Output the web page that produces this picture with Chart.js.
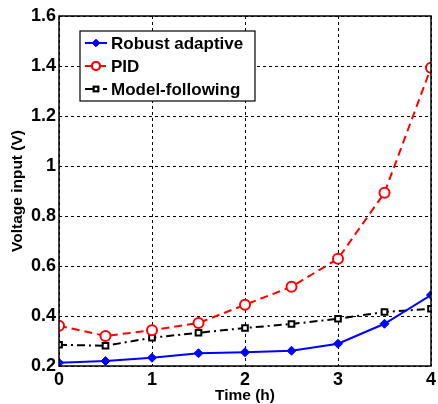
<!DOCTYPE html>
<html>
<head>
<meta charset="utf-8">
<script src="https://cdn.jsdelivr.net/npm/chart.js@4.4.0/dist/chart.umd.min.js"></script>
<style>
  html, body { margin: 0; padding: 0; background: #fff; }
  #wrap { width: 438px; height: 404px; position: relative; }
</style>
</head>
<body>
<div id="wrap"><canvas id="c" width="438" height="404"></canvas></div>
<script>
const timeH = [0, 0.5, 1, 1.5, 2, 2.5, 3, 3.5, 4];
const robust = [0.213, 0.220, 0.233, 0.251, 0.255, 0.261, 0.289, 0.369, 0.484];
const pid = [0.361, 0.320, 0.343, 0.372, 0.445, 0.517, 0.629, 0.893, 1.393];
const modelFollow = [0.285, 0.281, 0.313, 0.333, 0.352, 0.368, 0.389, 0.416, 0.429];
const seriesNames = ["Robust adaptive", "PID", "Model-following"];

const FONT = "Arial, 'Liberation Sans', sans-serif";

function pts(arr) { return arr.map((v, i) => ({ x: timeH[i], y: v })); }

const datasets = [
  { label: seriesNames[0], data: pts(robust), borderColor: "#0000ff", backgroundColor: "#0000ff",
    borderWidth: 2, pointStyle: "rectRot", pointRadius: 4.5, pointBorderWidth: 1, borderDash: [] },
  { label: seriesNames[1], data: pts(pid), borderColor: "#ff0000", backgroundColor: "#ffffff",
    borderWidth: 2, pointStyle: "circle", pointRadius: 5, pointBorderWidth: 2, borderDash: [8, 5] },
  { label: seriesNames[2], data: pts(modelFollow), borderColor: "#000000", backgroundColor: "#ffffff",
    borderWidth: 2, pointStyle: "rect", pointRadius: 4, pointBorderWidth: 2, borderDash: [8, 4, 2, 4] },
];

// dashed grid, box around the plot and a legend inside the axes, MATLAB style
const frameAndLegend = {
  id: "frameAndLegend",
  beforeDatasetsDraw(chart) {
    const { ctx, chartArea: a, scales } = chart;
    ctx.save();
    ctx.strokeStyle = "#000";
    ctx.lineWidth = 1;
    ctx.setLineDash([3, 3]);
    ctx.beginPath();
    scales.x.ticks.forEach(t => {
      const px = Math.round(scales.x.getPixelForValue(t.value)) + 0.5;
      ctx.moveTo(px, a.top); ctx.lineTo(px, a.bottom);
    });
    scales.y.ticks.forEach(t => {
      const py = Math.round(scales.y.getPixelForValue(t.value)) + 0.5;
      ctx.moveTo(a.left, py); ctx.lineTo(a.right, py);
    });
    ctx.stroke();
    ctx.restore();
  },
  afterDatasetsDraw(chart) {
    const { ctx, chartArea: a } = chart;
    ctx.save();
    ctx.strokeStyle = "#000";
    ctx.lineWidth = 1.5;
    ctx.setLineDash([]);
    ctx.strokeRect(a.left, a.top, a.right - a.left, a.bottom - a.top);

    const bx = 80, by = 31, bw = 175, bh = 70;
    ctx.fillStyle = "#fff";
    ctx.fillRect(bx, by, bw, bh);
    ctx.lineWidth = 1.2;
    ctx.strokeRect(bx, by, bw, bh);
    ctx.font = "bold 17px " + FONT;
    ctx.textBaseline = "middle";
    datasets.forEach((d, i) => {
      const y = by + 12 + i * 23;
      ctx.strokeStyle = d.borderColor;
      ctx.lineWidth = 2;
      ctx.setLineDash(d.borderDash);
      ctx.beginPath();
      ctx.moveTo(85, y);
      ctx.lineTo(107, y);
      ctx.stroke();
      ctx.setLineDash([]);
      ctx.fillStyle = d.backgroundColor;
      ctx.lineWidth = d.pointBorderWidth;
      Chart.helpers.drawPoint(ctx, { pointStyle: d.pointStyle, radius: d.pointRadius * 0.8, borderWidth: d.pointBorderWidth }, 96, y);
      ctx.fill();
      ctx.stroke();
      ctx.fillStyle = "#000";
      ctx.fillText(d.label, 111, y + 1);
    });
    ctx.restore();
  }
};

new Chart(document.getElementById("c"), {
  type: "line",
  data: { datasets },
  plugins: [frameAndLegend],
  options: {
    responsive: false,
    animation: false,
    devicePixelRatio: 1,
    layout: { padding: { top: 16, right: 5, left: 0, bottom: 0 } },
    plugins: { legend: { display: false }, tooltip: { enabled: false } },
    elements: { line: { tension: 0 } },
    scales: {
      x: {
        type: "linear", min: 0, max: 4,
        ticks: { stepSize: 1, color: "#000", font: { family: FONT, size: 18, weight: "bold", lineHeight: 1 }, padding: 5, maxRotation: 0 },
        grid: { display: false, drawTicks: false },
        border: { display: false },
        title: { display: true, text: "Time (h)", color: "#000", font: { family: FONT, size: 15.5, weight: "bold", lineHeight: 1 }, padding: { top: 3, bottom: 1 } },
        afterFit(s) { s.height = 38; s.paddingLeft = 0; s.paddingRight = 0; }
      },
      y: {
        min: 0.2, max: 1.6,
        ticks: { stepSize: 0.2, color: "#000", font: { family: FONT, size: 18, weight: "bold" }, padding: 3,
          callback: v => String(+v.toFixed(1)) },
        grid: { display: false, drawTicks: false },
        border: { display: false },
        title: { display: true, text: "Voltage input (V)", color: "#000", font: { family: FONT, size: 15.5, weight: "bold", lineHeight: 1 }, padding: { top: 10, bottom: 0 } },
        afterFit(s) { s.width = 59; s.paddingTop = 0; s.paddingBottom = 0; }
      }
    }
  }
});
</script>
</body>
</html>
